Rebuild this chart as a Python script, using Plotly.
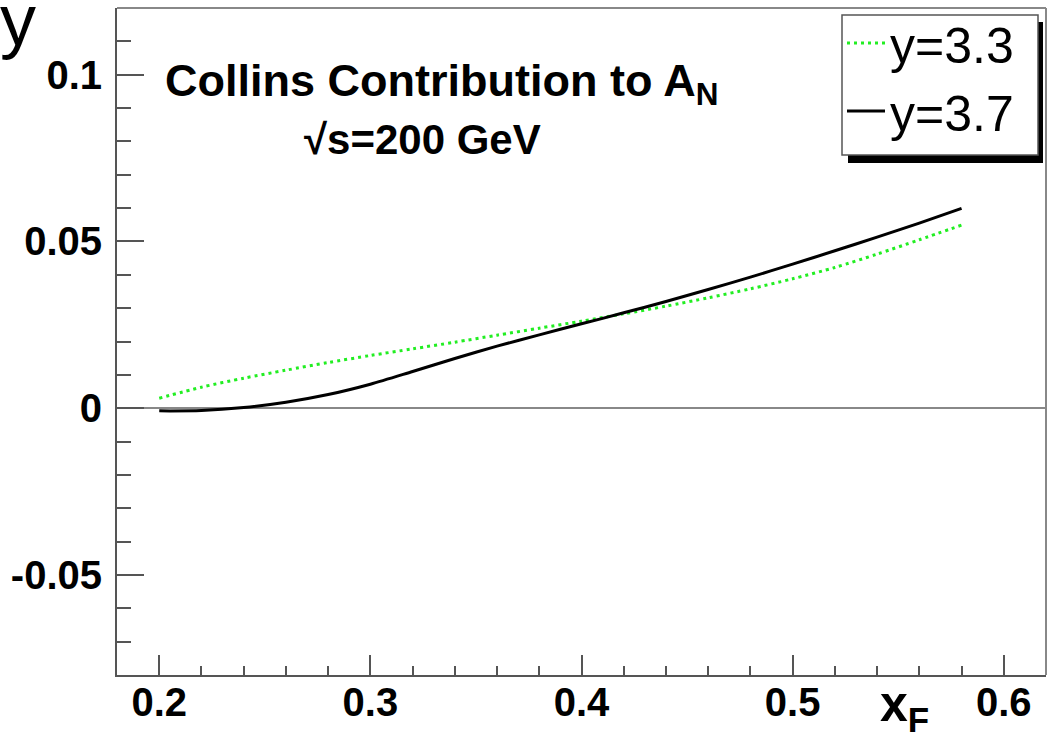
import plotly.graph_objects as go

# ---------------- data ----------------
xf = [0.20, 0.22, 0.24, 0.26, 0.28, 0.30, 0.32, 0.34, 0.36, 0.38,
      0.40, 0.42, 0.44, 0.46, 0.48, 0.50, 0.52, 0.54, 0.56, 0.58]
an_y33 = [0.0030, 0.0063, 0.0090, 0.0114, 0.0137, 0.0158, 0.0178, 0.0198, 0.0219, 0.0240,
          0.0261, 0.0283, 0.0306, 0.0331, 0.0358, 0.0388, 0.0422, 0.0462, 0.0505, 0.0549]
an_y37 = [-0.0008, -0.0007, 0.0002, 0.0018, 0.0041, 0.0072, 0.0110, 0.0149, 0.0186, 0.0220,
          0.0253, 0.0286, 0.0320, 0.0356, 0.0393, 0.0432, 0.0472, 0.0513, 0.0555, 0.0599]
series_names = ["y=3.3", "y=3.7"]

x_tickvals = [0.2, 0.3, 0.4, 0.5, 0.6]
x_ticktext = ["0.2", "0.3", "0.4", "0.5", "0.6"]
y_tickvals = [-0.05, 0.0, 0.05, 0.1]
y_ticktext = ["-0.05", "0", "0.05", "0.1"]

# ---------------- layout geometry ----------------
W, H = 1050, 735
L, R, T, B = 117, 4, 8, 60
PW, PH = W - L - R, H - T - B


def px(x):
    return (x - L) / PW


def py(y):
    return (H - B - y) / PH


FONT = "Liberation Sans, Arial, Helvetica, sans-serif"

fig = go.Figure()
fig.add_trace(go.Scatter(
    x=xf, y=an_y33, mode="lines", name=series_names[0], legendgroup="a",
    line=dict(color="#22ee22", width=3, dash="3px,4px", shape="spline", smoothing=0.8)))
fig.add_trace(go.Scatter(
    x=xf, y=an_y37, mode="lines", name=series_names[1], legendgroup="b",
    line=dict(color="black", width=3, shape="spline", smoothing=0.8)))

axis_common = dict(
    showgrid=False, showline=True, linecolor="#555555", linewidth=2,
    ticks="inside", tickcolor="#555555", tickwidth=1.5,
    tickfont=dict(family=FONT, size=40, color="black", weight="bold"),
)

fig.update_xaxes(
    range=[0.18, 0.62], tickmode="array", tickvals=x_tickvals, ticktext=x_ticktext,
    ticklen=20, zeroline=False, ticklabelstandoff=-9,
    minor=dict(dtick=0.02, ticks="inside", ticklen=9, tickcolor="#555555", tickwidth=1.5),
    **axis_common)
fig.update_yaxes(
    range=[-0.08, 0.12], tickmode="array", tickvals=y_tickvals, ticktext=y_ticktext,
    ticklen=27, zeroline=True, zerolinecolor="#888888", zerolinewidth=2, ticklabelstandoff=5,
    minor=dict(dtick=0.01, ticks="inside", ticklen=14, tickcolor="#555555", tickwidth=1.5),
    **axis_common)

shapes = [
    # top and right frame lines
    dict(type="line", xref="paper", yref="paper", x0=0, x1=1, y0=1, y1=1,
         line=dict(color="#888888", width=2)),
    dict(type="line", xref="paper", yref="paper", x0=1, x1=1, y0=0, y1=1,
         line=dict(color="#888888", width=2)),
    # legend shadow and box
    dict(type="rect", xref="paper", yref="paper", x0=px(848), x1=px(1043), y0=py(163), y1=py(22),
         fillcolor="black", line=dict(width=0), layer="above"),
    dict(type="rect", xref="paper", yref="paper", x0=px(842), x1=px(1038), y0=py(155), y1=py(15),
         fillcolor="white", line=dict(color="#555555", width=1.5), layer="above"),
]

annotations = [
    dict(text="y", xref="paper", yref="paper", x=px(-2), y=py(-22), xanchor="left", yanchor="top",
         showarrow=False, font=dict(family=FONT, size=72, color="black")),
    dict(text="Collins Contribution to A<sub>N</sub>", xref="paper", yref="paper",
         x=px(163), y=py(84), xanchor="left", yanchor="middle", showarrow=False,
         font=dict(family=FONT, size=45, color="black", weight="bold")),
    dict(text="√s=200 GeV", xref="paper", yref="paper",
         x=px(422), y=py(140), xanchor="center", yanchor="middle", showarrow=False,
         font=dict(family=FONT, size=42, color="black", weight="bold")),
    dict(text="x<sub>F</sub>", xref="paper", yref="paper",
         x=px(878), y=py(707), xanchor="left", yanchor="middle", showarrow=False,
         font=dict(family=FONT, size=50, color="black", weight="bold")),
]

fig.update_layout(
    width=W, height=H, margin=dict(l=L, r=R, t=T, b=B, pad=0),
    paper_bgcolor="white", plot_bgcolor="white",
    showlegend=True,
    legend=dict(x=px(842), y=py(4), xanchor="left", yanchor="top",
                bgcolor="rgba(0,0,0,0)", borderwidth=0, tracegroupgap=0, itemwidth=38,
                font=dict(family=FONT, size=50, color="black")),
    shapes=shapes, annotations=annotations,
)

fig.write_html("out.html")
